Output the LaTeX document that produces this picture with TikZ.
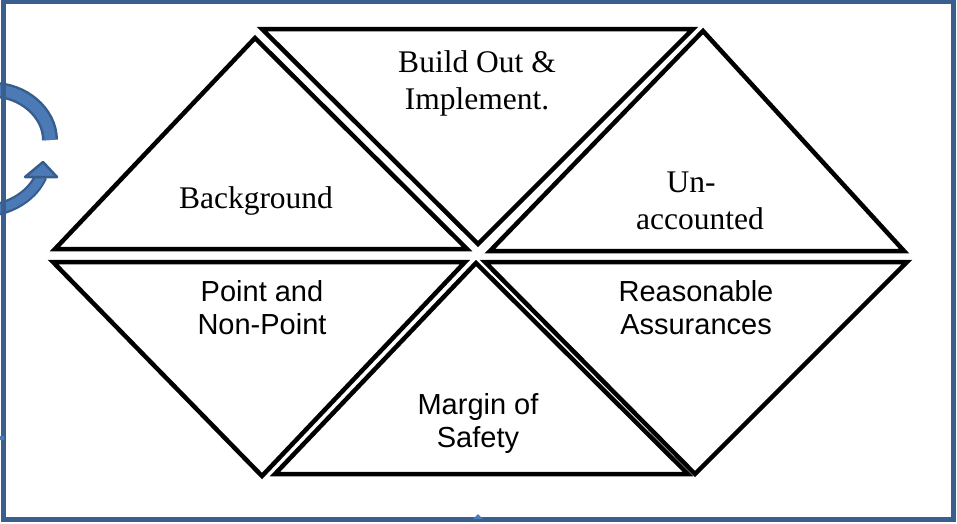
\documentclass[tikz,border=0pt]{standalone}
\usepackage{fontspec}
\setmainfont{Liberation Serif}
\setsansfont{Liberation Sans}
\definecolor{frameblue}{RGB}{58,94,142}
\definecolor{arrowfill}{RGB}{75,122,182}
\definecolor{arrowline}{RGB}{55,93,140}
\begin{document}
\begin{tikzpicture}[x=1pt,y=-1pt,
  tri/.style={draw=black, line width=4.5pt, line join=miter},
  serif/.style={font=\fontsize{31.5}{37}\selectfont, align=center, inner sep=0pt},
  sans/.style={font=\sffamily\fontsize{29}{33}\selectfont, align=center, inner sep=0pt},
  bandout/.style={draw=arrowline, line width=16pt, line cap=butt},
  bandin/.style={draw=arrowfill, line width=11pt, line cap=butt},
  frameline/.style={draw=frameblue, line width=4.5pt}]
\useasboundingbox (0,0) rectangle (957,523);

% circular arrow on the left edge
\draw[bandout] (-6,90) .. controls (22,90) and (50,112) .. (50,140);
\draw[bandin] (-6,90) .. controls (22,90) and (50,112) .. (50,140);
\draw[arrowline, line width=13pt, line cap=butt] (-6,210) .. controls (15,206) and (33,194) .. (41,176);
\draw[arrowfill, line width=8.5pt, line cap=butt] (-6,210) .. controls (15,206) and (33,194) .. (41,176.5);
\filldraw[fill=arrowfill, draw=arrowline, line width=2.5pt, line join=round]
  (43,162) -- (57,177) -- (25,177) -- cycle;

% six triangles arranged as a hexagon
\draw[tri] (255,38) -- (467,249) -- (55,249) -- cycle;
\draw[tri] (262,29) -- (693,29) -- (478,244) -- cycle;
\draw[tri] (703,31) -- (904,251) -- (490,251) -- cycle;
\draw[tri] (53,262) -- (465,262) -- (262,476) -- cycle;
\draw[tri] (476,263) -- (688,474) -- (275,474) -- cycle;
\draw[tri] (485,262) -- (907,262) -- (695,474) -- cycle;

% labels
\node[serif] (build) at (477,83) {Build Out \&\\Implement.};
\node[serif] (bg) at (256,201) {Background};
\node[serif] (un) at (700,201) {Un-\rule{18pt}{0pt}\\accounted};
\node[sans] (pt) at (262,308) {Point and\\Non-Point};
\node[sans] (ra) at (696,308) {Reasonable\\Assurances};
\node[sans] (ms) at (478,423) {Margin of\\Safety};

% outer frame
\draw[frameline] (3.5,1.5) rectangle (953.5,519.5);
\fill[arrowfill] (2,438) circle (2.5pt);
\fill[arrowfill] (473,519) -- (478,514) -- (483,519) -- cycle;
\end{tikzpicture}
\end{document}
